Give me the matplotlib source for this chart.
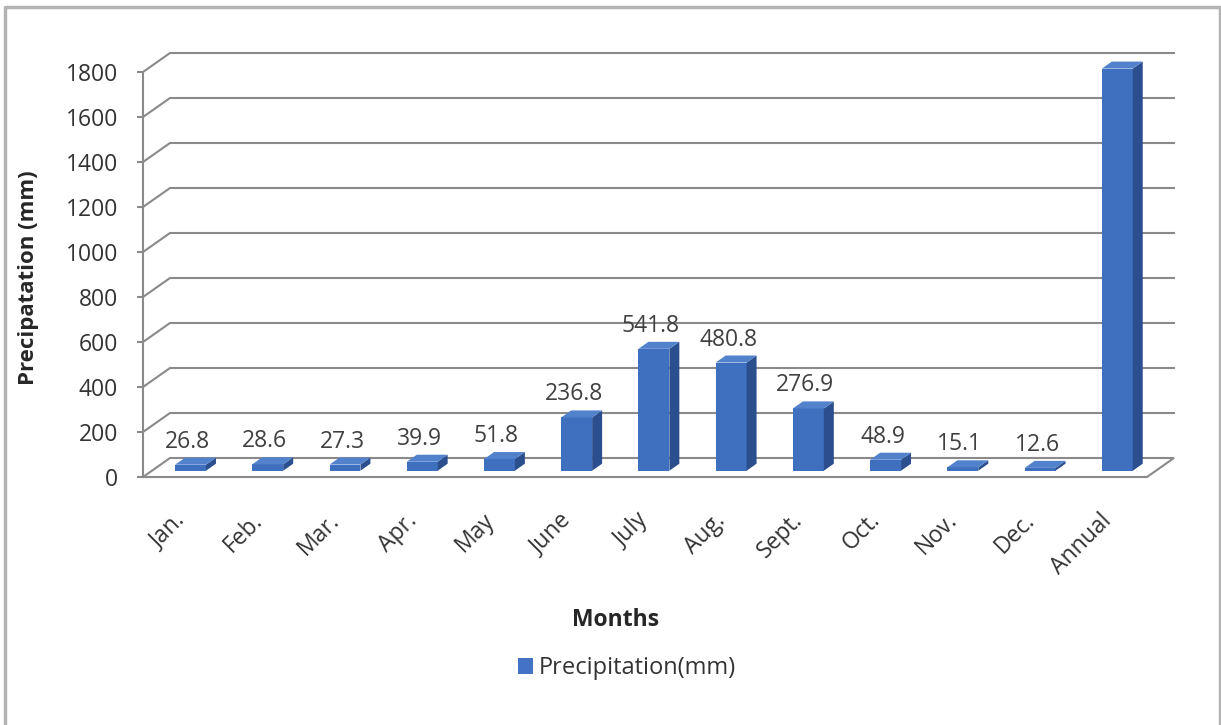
import matplotlib.pyplot as plt
from matplotlib.patches import Polygon, Patch
from matplotlib.lines import Line2D

plt.rcParams['font.family'] = ['Open Sans', 'DejaVu Sans']

# monthly precipitation (mm) plus annual total
months = ['Jan.', 'Feb.', 'Mar.', 'Apr.', 'May', 'June', 'July', 'Aug.',
          'Sept.', 'Oct.', 'Nov.', 'Dec.', 'Annual']
precip = [26.8, 28.6, 27.3, 39.9, 51.8, 236.8, 541.8, 480.8, 276.9,
          48.9, 15.1, 12.6, 1787.3]
yticks = [0, 200, 400, 600, 800, 1000, 1200, 1400, 1600, 1800]

W, H = 1221, 725
fig = plt.figure(figsize=(W / 100, H / 100), dpi=100)

# front plane of the plot in pixels
x0, x1 = 143, 1147
y0, y1 = 477, 72
ax = fig.add_axes([x0 / W, 1 - y0 / H, (x1 - x0) / W, (y0 - y1) / H])
n = len(months)
ymax = 1800
ax.set_xlim(0, n)
ax.set_ylim(0, ymax)

# depth of the fake 3d box in data units
px_x = (x1 - x0) / n
px_y = (y0 - y1) / ymax
DX = 27 / px_x
DY = 19 / px_y

grid_c = '#8a8a8a'
lw = 1.5

# floor
floor = Polygon([(0, 0), (n, 0), (n + DX, DY), (DX, DY)], closed=True,
                facecolor='white', edgecolor=grid_c, lw=lw, clip_on=False, zorder=1)
ax.add_patch(floor)

# back wall and side wall gridlines
for t in yticks[1:]:
    ax.plot([0, DX, n + DX], [t, t + DY, t + DY], color=grid_c, lw=lw,
            clip_on=False, zorder=1, solid_joinstyle='miter')

# bars
front_c = '#3f6fbf'
side_c = '#2b4f8e'
top_c = '#5282cc'
bw = 0.4
f_front, f_back = 0.33, 0.7
for i, v in enumerate(precip):
    xl = i + 0.5 - bw / 2 + f_front * DX
    xr = i + 0.5 + bw / 2 + f_front * DX
    yb = f_front * DY
    ddx = (f_back - f_front) * DX
    ddy = (f_back - f_front) * DY
    ax.add_patch(Polygon([(xl, yb), (xr, yb), (xr, yb + v), (xl, yb + v)],
                         facecolor=front_c, edgecolor='none', clip_on=False, zorder=3))
    ax.add_patch(Polygon([(xr, yb), (xr + ddx, yb + ddy), (xr + ddx, yb + ddy + v), (xr, yb + v)],
                         facecolor=side_c, edgecolor='none', clip_on=False, zorder=3))
    ax.add_patch(Polygon([(xl, yb + v), (xr, yb + v), (xr + ddx, yb + ddy + v), (xl + ddx, yb + ddy + v)],
                         facecolor=top_c, edgecolor='none', clip_on=False, zorder=3))
    ax.annotate(f'{v:.1f}', ((xl + xr) / 2, yb + v), xytext=(-3, 17),
                textcoords='offset pixels', ha='center', va='baseline',
                fontsize=16.5, color='#404040', zorder=5)

# category labels
for i, m in enumerate(months):
    ax.annotate(m, (i + 0.5, 0), xytext=(0, -40), textcoords='offset pixels',
                ha='right', va='center', rotation=45, rotation_mode='anchor',
                fontsize=16.5, color='#333333', annotation_clip=False)

# axes styling
for s in ['top', 'right', 'bottom']:
    ax.spines[s].set_visible(False)
ax.spines['left'].set_color(grid_c)
ax.spines['left'].set_linewidth(lw)
ax.set_xticks([])
ax.set_yticks(yticks)
ax.tick_params(axis='y', length=4, width=lw, color=grid_c, pad=14,
               labelsize=16.5, labelcolor='#333333')
ax.patch.set_visible(False)

fig.text(29 / W, 1 - 278 / H, 'Precipatation (mm)', rotation=90, ha='center',
         va='center', fontsize=16, fontweight='bold', color='#262626')
fig.text(616 / W, 1 - 620 / H, 'Months', ha='center', va='center',
         fontsize=16.5, fontweight='bold', color='#262626')

fig.legend(handles=[Patch(facecolor='#4472c4', edgecolor='none')],
           labels=['Precipitation(mm)'], loc='center',
           bbox_to_anchor=(627 / W, 1 - 668 / H), frameon=False,
           fontsize=17, handlelength=0.65, handleheight=0.65, handletextpad=0.25,
           labelcolor='#333333')

# chart border
bc = '#b4b4b4'
fig.add_artist(Line2D([5 / W, 5 / W, 1220 / W, 1220 / W], [0, 1 - 7 / H, 1 - 7 / H, 0],
                      color=bc, lw=2.5, transform=fig.transFigure))

fig.savefig('out.png', dpi=100, facecolor='white')
